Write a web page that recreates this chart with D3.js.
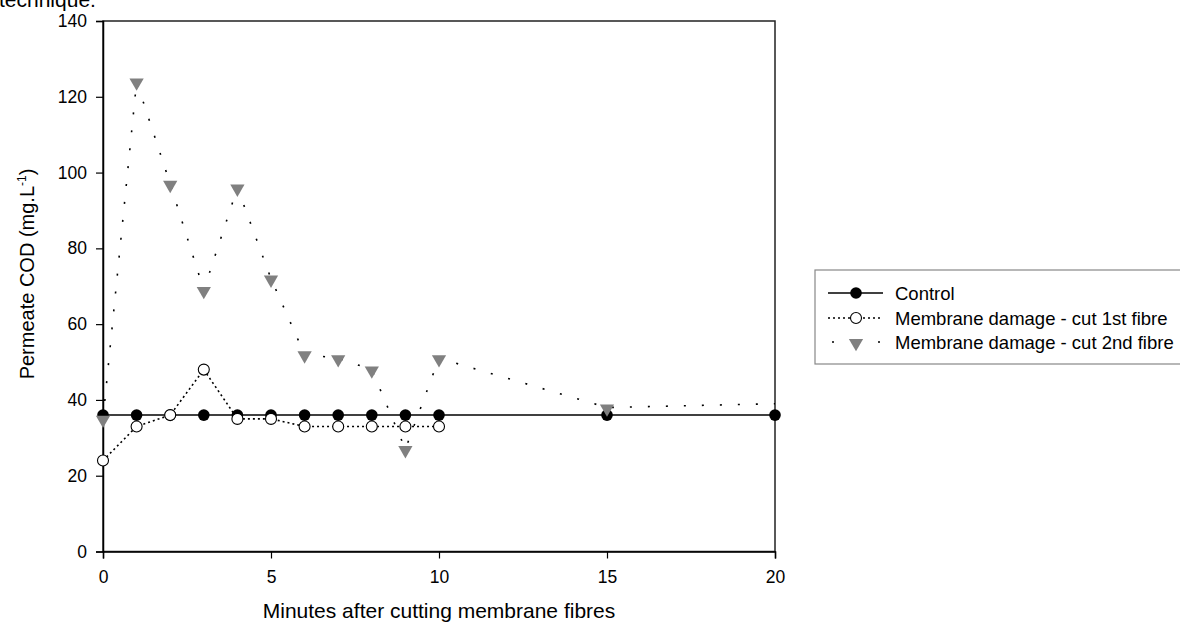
<!DOCTYPE html>
<html>
<head>
<meta charset="utf-8">
<script src="https://cdnjs.cloudflare.com/ajax/libs/d3/7.8.5/d3.min.js"></script>
<style>
  body { margin: 0; background: #fff; }
  svg { display: block; font-family: "Liberation Sans", Arial, sans-serif; }
</style>
</head>
<body>
<script>
// data
var controlX = [0, 1, 2, 3, 4, 5, 6, 7, 8, 9, 10, 15, 20];
var controlY = [36, 36, 36, 36, 36, 36, 36, 36, 36, 36, 36, 36, 36];

var cut1X = [0, 1, 2, 3, 4, 5, 6, 7, 8, 9, 10];
var cut1Y = [24, 33, 36, 48, 35, 35, 33, 33, 33, 33, 33];

var cut2X = [0, 1, 2, 3, 4, 5, 6, 7, 8, 9, 10, 15, 20];
var cut2Y = [35, 124, 97, 69, 96, 72, 52, 51, 48, 27, 51, 38, 39];

var xTicks = [0, 5, 10, 15, 20];
var yTicks = [0, 20, 40, 60, 80, 100, 120, 140];
var legendNames = ["Control", "Membrane damage - cut 1st fibre", "Membrane damage - cut 2nd fibre"];

var W = 1180, H = 628;
var plotL = 103, plotR = 775, plotT = 21, plotB = 551.5;

var svg = d3.select("body").append("svg")
    .attr("width", W)
    .attr("height", H);

var x = d3.scaleLinear().domain([0, 20]).range([plotL, plotR]);
var y = d3.scaleLinear().domain([0, 140]).range([plotB, plotT]);

function zip(xs, ys) {
    return xs.map(function (v, i) { return { x: v, y: ys[i] }; });
}
var control = zip(controlX, controlY);
var cut1 = zip(cut1X, cut1Y);
var cut2 = zip(cut2X, cut2Y);

// cut-off caption line from the page above
svg.append("text")
    .attr("x", -1)
    .attr("y", 7)
    .style("font-size", "21px")
    .text("technique.");

// frame
svg.append("rect")
    .attr("x", plotL).attr("y", plotT)
    .attr("width", plotR - plotL).attr("height", plotB - plotT)
    .attr("fill", "none")
    .attr("stroke", "#222")
    .attr("stroke-width", 1.5);

// axes
var xAxis = d3.axisBottom(x).tickValues(xTicks).tickSize(7).tickPadding(12);
var gx = svg.append("g").attr("transform", "translate(0," + plotB + ")").call(xAxis);
var yAxis = d3.axisLeft(y).tickValues(yTicks).tickSize(7).tickPadding(9);
var gy = svg.append("g").attr("transform", "translate(" + plotL + ",0)").call(yAxis);

[gx, gy].forEach(function (g) {
    g.select(".domain").attr("stroke", "#000").attr("stroke-width", 1.5);
    g.selectAll(".tick line").attr("stroke", "#000").attr("stroke-width", 1.2);
    g.selectAll(".tick text")
        .attr("fill", "#000")
        .style("font-size", "17.5px")
        .style("font-family", "'Liberation Sans', Arial, sans-serif");
});

// axis titles
svg.append("text")
    .attr("x", (plotL + plotR) / 2)
    .attr("y", 618)
    .attr("text-anchor", "middle")
    .style("font-size", "21px")
    .text("Minutes after cutting membrane fibres");

var yt = svg.append("text")
    .attr("transform", "translate(34,274) rotate(-90)")
    .attr("text-anchor", "middle")
    .style("font-size", "20px");
yt.append("tspan").text("Permeate COD (mg.L");
yt.append("tspan").attr("dy", -8).style("font-size", "12px").text("-1");
yt.append("tspan").attr("dy", 8).text(")");

var line = d3.line().x(function (d) { return x(d.x); }).y(function (d) { return y(d.y); });

// lines
svg.append("path").datum(cut2)
    .attr("d", line)
    .attr("fill", "none")
    .attr("stroke", "#000")
    .attr("stroke-width", 1.6)
    .attr("stroke-dasharray", "2,16");

svg.append("path").datum(control)
    .attr("d", line)
    .attr("fill", "none")
    .attr("stroke", "#000")
    .attr("stroke-width", 1.5);

svg.append("path").datum(cut1)
    .attr("d", line)
    .attr("fill", "none")
    .attr("stroke", "#000")
    .attr("stroke-width", 1.6)
    .attr("stroke-dasharray", "2,3");

var tri = d3.symbol().type(d3.symbolTriangle).size(88);

// markers
svg.selectAll(".ctl").data(control).enter().append("circle")
    .attr("cx", function (d) { return x(d.x); })
    .attr("cy", function (d) { return y(d.y); })
    .attr("r", 5.8)
    .attr("fill", "#000");

svg.selectAll(".c1").data(cut1).enter().append("circle")
    .attr("cx", function (d) { return x(d.x); })
    .attr("cy", function (d) { return y(d.y); })
    .attr("r", 5.5)
    .attr("fill", "#fff")
    .attr("stroke", "#000")
    .attr("stroke-width", 1.1);

// last point sits on the frame edge and has no marker in the original
svg.selectAll(".c2").data(cut2.filter(function (d) { return d.x < 20; })).enter().append("path")
    .attr("d", tri)
    .attr("transform", function (d) { return "translate(" + x(d.x) + "," + (y(d.y) + 1) + ") rotate(180)"; })
    .attr("fill", "#808080");

// legend
var lg = svg.append("g");
lg.append("rect")
    .attr("x", 815).attr("y", 270)
    .attr("width", 380).attr("height", 94)
    .attr("fill", "#fff")
    .attr("stroke", "#888")
    .attr("stroke-width", 1.2);

var rowY = [293, 318, 342];
lg.append("line").attr("x1", 828).attr("x2", 883).attr("y1", rowY[0]).attr("y2", rowY[0])
    .attr("stroke", "#000").attr("stroke-width", 1.5);
lg.append("circle").attr("cx", 856).attr("cy", rowY[0]).attr("r", 5.8).attr("fill", "#000");

lg.append("line").attr("x1", 828).attr("x2", 883).attr("y1", rowY[1]).attr("y2", rowY[1])
    .attr("stroke", "#000").attr("stroke-width", 1.5).attr("stroke-dasharray", "2,3");
lg.append("circle").attr("cx", 856).attr("cy", rowY[1]).attr("r", 5.5)
    .attr("fill", "#fff").attr("stroke", "#000").attr("stroke-width", 1.1);

lg.append("line").attr("x1", 832).attr("x2", 880).attr("y1", rowY[2]).attr("y2", rowY[2])
    .attr("stroke", "#000").attr("stroke-width", 1.6).attr("stroke-dasharray", "2,21");
lg.append("path").attr("d", tri)
    .attr("transform", "translate(856," + (rowY[2] + 1) + ") rotate(180)")
    .attr("fill", "#808080");

lg.selectAll(".lt").data(legendNames).enter().append("text")
    .attr("x", 895)
    .attr("y", function (d, i) { return rowY[i] + 6.5; })
    .style("font-size", "18.5px")
    .text(function (d) { return d; });
</script>
</body>
</html>
